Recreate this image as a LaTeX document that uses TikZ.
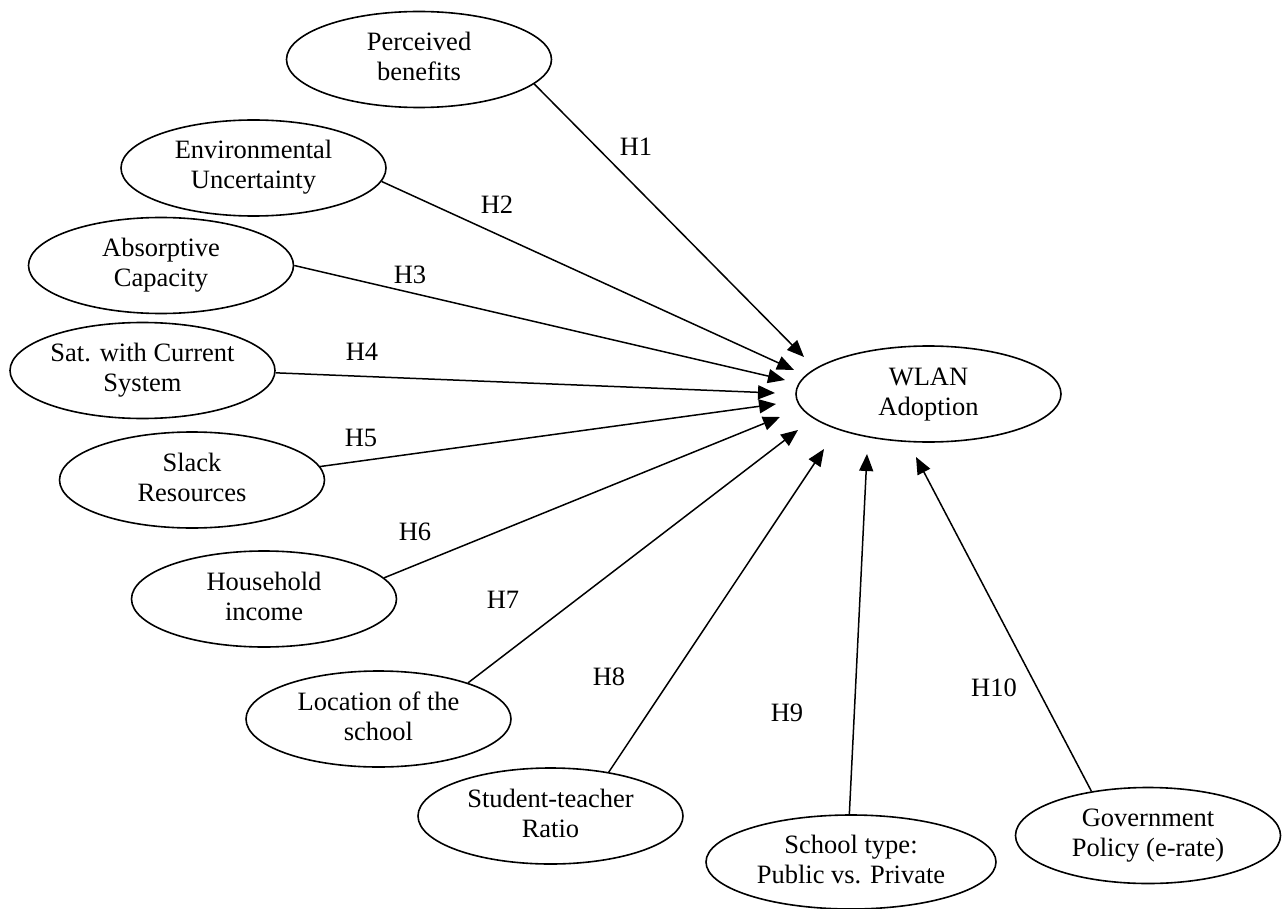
\documentclass[tikz,border=0pt]{standalone}
\usepackage{fontspec}
\setmainfont{Liberation Serif}
\usetikzlibrary{shapes.geometric,arrows.meta}
\newcommand{\twol}[2]{\makebox[0pt]{\begin{tabular}{@{}c@{}}#1\\#2\end{tabular}}}
\begin{document}
\begin{tikzpicture}[x=1pt,y=-1pt,
  var/.style={draw, ellipse, line width=1.6pt, minimum width=265pt, minimum height=96pt, inner sep=0pt, font=\fontsize{26.5}{30}\selectfont},
  hyp/.style={font=\fontsize{26.5}{30}\selectfont, inner sep=0pt},
  link/.style={line width=1.5pt, -{Triangle[length=17pt,width=14pt]}}]
\useasboundingbox (0,0) rectangle (1284,909);

% variables
\node[var] (pb)  at (419,59.5)  {\twol{Perceived}{benefits}};
\node[var] (eu)  at (253.5,168) {\twol{Environmental}{Uncertainty}};
\node[var] (ac)  at (161,265.5) {\twol{Absorptive}{Capacity}};
\node[var] (sc)  at (142.5,370.5) {\twol{Sat. with Current}{System}};
\node[var] (sr)  at (192,480)   {\twol{Slack}{Resources}};
\node[var] (hi)  at (264,599)   {\twol{Household}{income}};
\node[var] (ls)  at (378.5,719) {\twol{Location of the}{school}};
\node[var] (st)  at (550.5,816) {\twol{Student-teacher}{Ratio}};
\node[var, minimum width=290pt, minimum height=94pt] (sty) at (851,862) {\twol{School type:}{Public vs. Private}};
\node[var] (gp)  at (1148,835.5) {\twol{Government}{Policy (e-rate)}};
\node[var] (wl)  at (928.5,394) {\twol{WLAN}{Adoption}};

% arrow tips near WLAN Adoption
\coordinate (t1)  at (804,357);
\coordinate (t2)  at (794,370);
\coordinate (t3)  at (785,380);
\coordinate (t4)  at (775,393);
\coordinate (t5)  at (776,404);
\coordinate (t6)  at (780,417);
\coordinate (t7)  at (798,430);
\coordinate (t8)  at (824,449);
\coordinate (t9)  at (867,454);
\coordinate (t10) at (916,457);

% connectors
\draw[link] (pb.-12.8) -- (t1);
\draw[link] (eu.-6.9)  -- (t2);
\draw[link] (ac.0)     -- (t3);
\draw[link] (sc.-1.9)  -- (t4);
\draw[link] (sr.6.1)   -- (t5);
\draw[link] (hi.10.6)  -- (t6);
\draw[link] (ls.22.5)  -- (t7);
\draw[link] (st.37)    -- (t8);
\draw[link] (sty.92.3) -- (t9);
\draw[link] (gp.142.6) -- (t10);

% hypothesis labels
\node[hyp] (h1)  at (636,147) {H1};
\node[hyp] (h2)  at (497,205) {H2};
\node[hyp] (h3)  at (410,275) {H3};
\node[hyp] (h4)  at (362,352) {H4};
\node[hyp] (h5)  at (361,438) {H5};
\node[hyp] (h6)  at (415,532) {H6};
\node[hyp] (h7)  at (503,600) {H7};
\node[hyp] (h8)  at (609,677) {H8};
\node[hyp] (h9)  at (787,713) {H9};
\node[hyp] (h10) at (994,688) {H10};
\end{tikzpicture}
\end{document}
